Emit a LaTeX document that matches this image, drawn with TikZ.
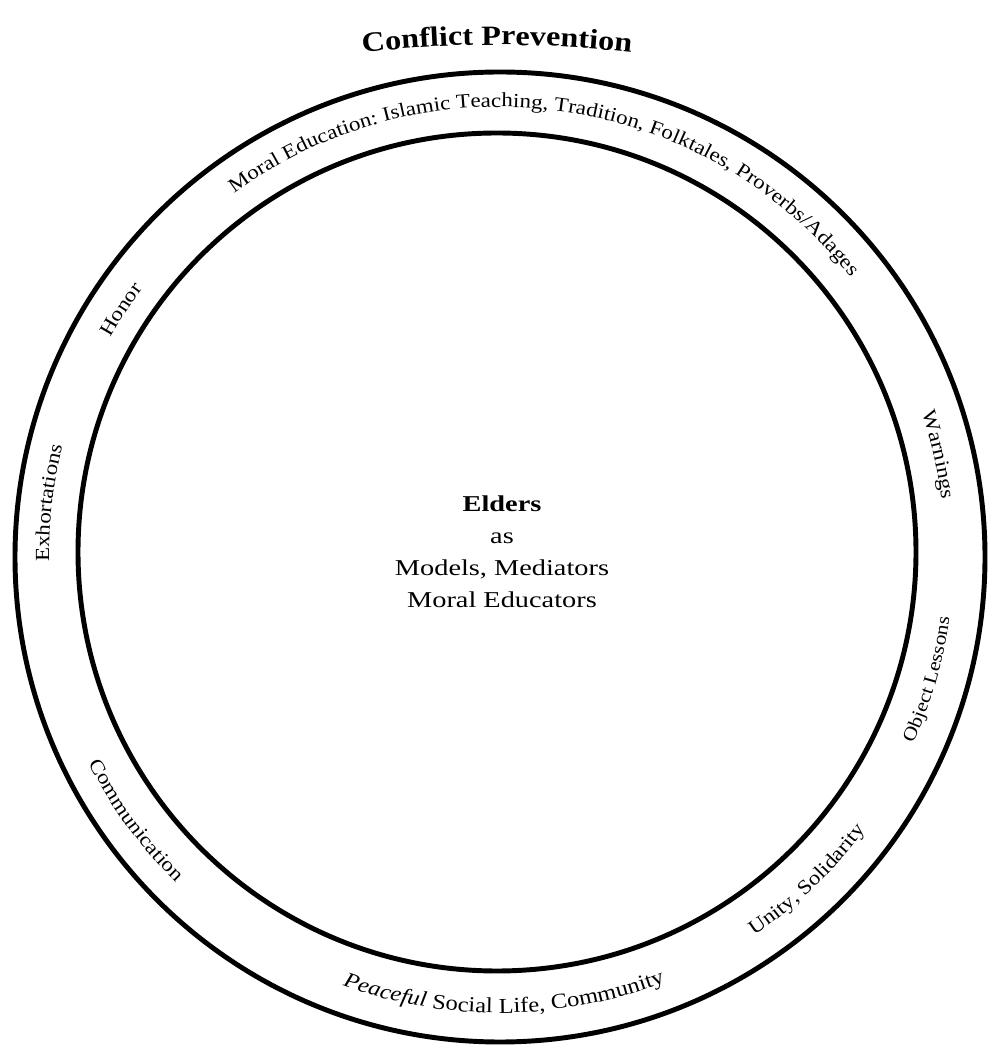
\documentclass[tikz,border=0pt]{standalone}
\usepackage{fontspec}
\setmainfont{Liberation Serif}
\newfontfamily\arcfont[FakeStretch=1.15]{Liberation Serif}
\newfontfamily\midfont[FakeStretch=1.25]{Liberation Serif}
\usetikzlibrary{decorations.text,calc}
\tikzset{
  ring/.style={draw, line width=3.7pt},
  arctext/.style={decorate, decoration={text along path, text align=center}},
}
% #1 radius, #2 start angle, #3 end angle, #4 format, #5 text
\newcommand\ArcTxt[5]{%
  \path[arctext, decoration={text={|#4|#5}}]
    ($(C)+(#2:#1)$) arc[start angle=#2, end angle=#3, radius=#1];}
\newcommand\rf{\arcfont\fontsize{15}{18}\selectfont}
\begin{document}
\begin{tikzpicture}[x=0.75pt,y=0.75pt]
\useasboundingbox (0,0) rectangle (996,1057);
\coordinate (O) at (500,500);
\coordinate (I) at (497,505);
\coordinate (C) at (499,502);
\coordinate (T) at (497,-191);
\draw[ring] (O) circle[radius=485];
\draw[ring] (I) circle[radius=419];
\node[align=center, inner sep=0pt, font=\midfont\fontsize{17}{24}\selectfont] (elders) at (502,505)
  {{\bfseries Elders}\\as\\Models, Mediators\\Moral Educators};
% title
\path[arctext, decoration={text={|\arcfont\bfseries\fontsize{21}{24}\selectfont|Conflict Prevention}}]
  ($(T)+(100:1203)$) arc[start angle=100, end angle=80, radius=1203];
% ring texts
\ArcTxt{448}{142.25}{22.25}{\rf}{Moral Education: Islamic Teaching, Tradition, Folktales, Proverbs/Adages}
\ArcTxt{445}{167}{127}{\rf}{Honor}
\ArcTxt{450}{193.4}{153.4}{\rf}{Exhortations}
\ArcTxt{446}{32.85}{-7.15}{\rf}{Warnings}
\ArcTxt{455}{323.8}{363.8}{\arcfont\fontsize{14}{17}\selectfont}{Object Lessons}
\ArcTxt{460}{196.15}{236.15}{\rf}{Communication}
\ArcTxt{458}{293.5}{333.5}{\rf}{Unity, Solidarity}
\ArcTxt{458}{240}{301.3}{\arcfont\fontsize{16}{19}\selectfont\itshape}{Peaceful|\arcfont\fontsize{16}{19}\selectfont\upshape| Social Life, Community}
\end{tikzpicture}
\end{document}
